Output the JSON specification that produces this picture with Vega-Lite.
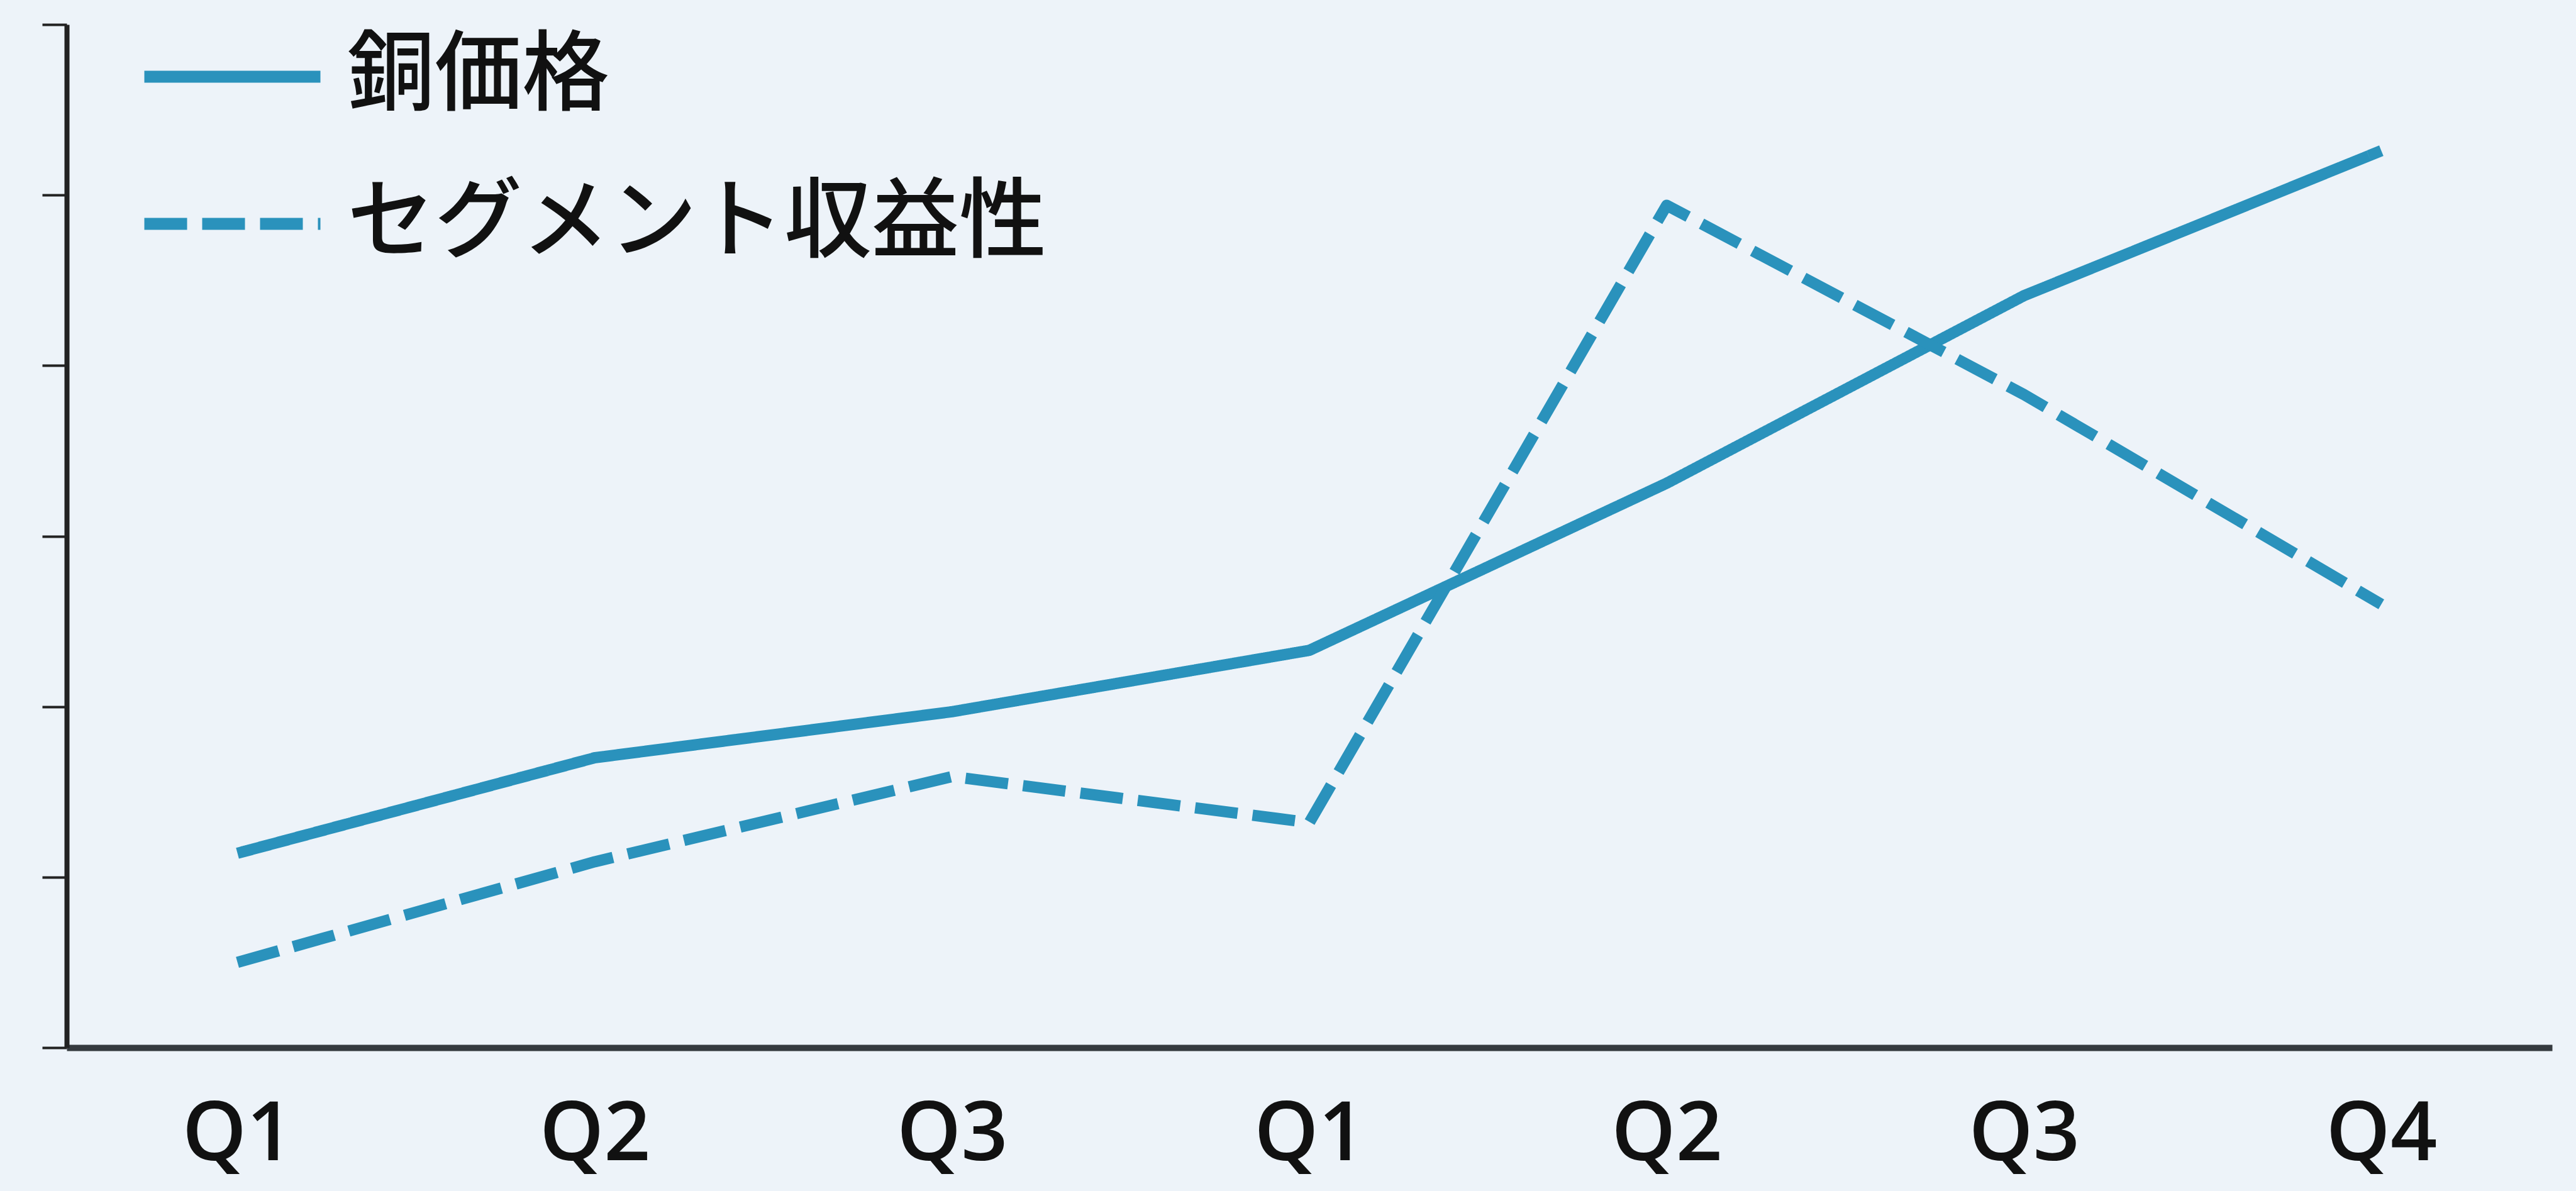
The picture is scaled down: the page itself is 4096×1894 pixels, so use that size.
{
  "$schema": "https://vega.github.io/schema/vega-lite/v6.json",
  "width": 3952,
  "height": 1627,
  "autosize": {"type": "none"},
  "padding": {"left": 106, "top": 39, "right": 38, "bottom": 228},
  "background": "#edf3f9",
  "config": {
    "view": {"stroke": null},
    "font": "Open Sans"
  },
  "data": {
    "values": [
      {"period": "Y1-Q1", "series": "銅価格", "value": 1.14},
      {"period": "Y1-Q2", "series": "銅価格", "value": 1.70},
      {"period": "Y1-Q3", "series": "銅価格", "value": 1.97},
      {"period": "Y2-Q1", "series": "銅価格", "value": 2.33},
      {"period": "Y2-Q2", "series": "銅価格", "value": 3.31},
      {"period": "Y2-Q3", "series": "銅価格", "value": 4.41},
      {"period": "Y2-Q4", "series": "銅価格", "value": 5.26},
      {"period": "Y1-Q1", "series": "セグメント収益性", "value": 0.50},
      {"period": "Y1-Q2", "series": "セグメント収益性", "value": 1.09},
      {"period": "Y1-Q3", "series": "セグメント収益性", "value": 1.59},
      {"period": "Y2-Q1", "series": "セグメント収益性", "value": 1.32},
      {"period": "Y2-Q2", "series": "セグメント収益性", "value": 4.94},
      {"period": "Y2-Q3", "series": "セグメント収益性", "value": 3.83},
      {"period": "Y2-Q4", "series": "セグメント収益性", "value": 2.60}
    ]
  },
  "mark": {"type": "line", "color": "#2a92bc", "strokeWidth": 18, "strokeCap": "butt", "strokeJoin": "round"},
  "encoding": {
    "x": {
      "field": "period",
      "type": "ordinal",
      "sort": null,
      "scale": {"type": "point", "padding": 0.478},
      "axis": {
        "title": null,
        "labelExpr": "split(datum.label, '-')[1]",
        "labelAngle": 0,
        "labelFont": "Open Sans",
        "labelFontWeight": 600,
        "labelFontSize": 130,
        "labelColor": "#111111",
        "labelBaseline": "alphabetic",
        "labelPadding": 178,
        "ticks": false,
        "domainColor": "#353a3f",
        "domainWidth": 10,
        "grid": false
      }
    },
    "y": {
      "field": "value",
      "type": "quantitative",
      "scale": {"domain": [0, 6], "nice": false, "zero": true},
      "axis": {
        "title": null,
        "labels": false,
        "grid": false,
        "values": [0, 1, 2, 3, 4, 5, 6],
        "tickSize": 39,
        "tickWidth": 4,
        "tickColor": "#222222",
        "domainColor": "#222222",
        "domainWidth": 8
      }
    },
    "strokeDash": {
      "field": "series",
      "type": "nominal",
      "sort": ["銅価格", "セグメント収益性"],
      "scale": {"domain": ["銅価格", "セグメント収益性"], "range": [[1, 0], [68, 24]]},
      "legend": {
        "title": null,
        "orient": "none",
        "legendX": 114,
        "legendY": 8,
        "padding": 0,
        "symbolType": "stroke",
        "symbolSize": 78400,
        "symbolStrokeWidth": 19,
        "symbolStrokeColor": "#2a92bc",
        "clipHeight": 150,
        "rowPadding": 84,
        "labelFont": "Noto Sans CJK JP",
        "labelFontWeight": 500,
        "labelFontSize": 139,
        "labelColor": "#111111",
        "labelOffset": 33,
        "labelLimit": 2000
      }
    }
  }
}
